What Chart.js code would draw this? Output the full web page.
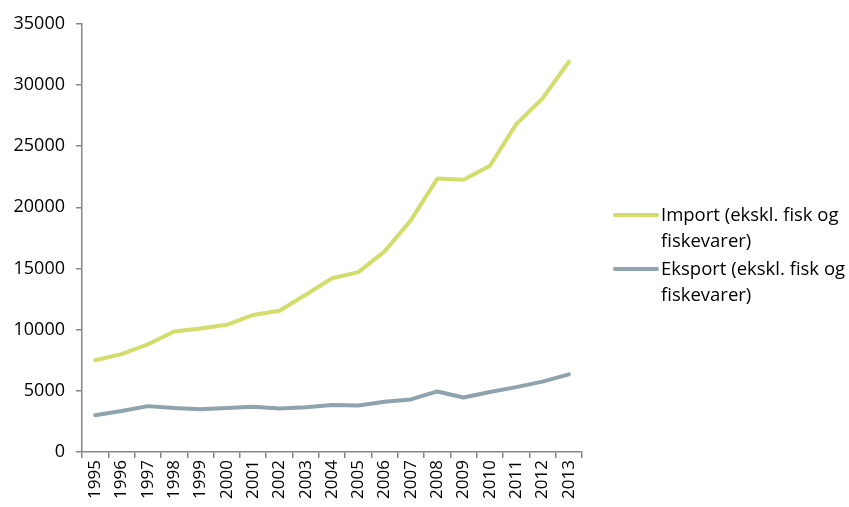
<!DOCTYPE html>
<html>
<head>
<meta charset="utf-8">
<script src="https://cdn.jsdelivr.net/npm/chart.js@4.4.0/dist/chart.umd.min.js"></script>
<style>
  html, body { margin:0; padding:0; background:#fff; }
  #wrap { position:relative; width:849px; height:507px; }
  #box { position:absolute; left:0; top:2px; width:849px; height:505px; }
  #legend { position:absolute; left:613px; top:201px; font-family:"Open Sans", sans-serif; font-size:18.5px; color:#000; line-height:26px; }
  .item { position:relative; padding-left:48px; width:190px; margin-bottom:2px; }
  .swatch { position:absolute; left:0; top:12px; width:46px; height:4px; border-radius:2px; }
</style>
</head>
<body>
<div id="wrap">
  <div id="box"><canvas id="chart"></canvas></div>
  <div id="legend"></div>
</div>
<script>
// Data (lest av fra figuren)
const years = ["1995","1996","1997","1998","1999","2000","2001","2002","2003","2004",
               "2005","2006","2007","2008","2009","2010","2011","2012","2013"];
const importVals = [7500, 8000, 8800, 9850, 10100, 10400, 11200, 11550, 12850, 14200,
                    14700, 16400, 18950, 22350, 22250, 23400, 26800, 28900, 31900];
const eksportVals = [3000, 3350, 3750, 3600, 3500, 3600, 3700, 3550, 3650, 3850,
                     3800, 4100, 4300, 4950, 4450, 4900, 5300, 5750, 6350];
const seriesNames = ["Import (ekskl. fisk og fiskevarer)", "Eksport (ekskl. fisk og fiskevarer)"];
const seriesColors = ["#d2dd6c", "#8ea3ad"];

Chart.defaults.font.family = "'Open Sans', sans-serif";
Chart.defaults.font.size = 17;
Chart.defaults.color = "#000";

const axisColor = "#868686";

new Chart(document.getElementById("chart").getContext("2d"), {
  type: "line",
  data: {
    labels: years,
    datasets: [
      { label: seriesNames[0], data: importVals, borderColor: seriesColors[0], backgroundColor: seriesColors[0],
        borderWidth: 4, pointRadius: 0, tension: 0, borderCapStyle: "round", borderJoinStyle: "round" },
      { label: seriesNames[1], data: eksportVals, borderColor: seriesColors[1], backgroundColor: seriesColors[1],
        borderWidth: 4, pointRadius: 0, tension: 0, borderCapStyle: "round", borderJoinStyle: "round" }
    ]
  },
  options: {
    responsive: true,
    maintainAspectRatio: false,
    animation: false,
    layout: { padding: { top: 9, right: 267, left: 0, bottom: 0 } },
    plugins: { legend: { display: false }, tooltip: { enabled: false } },
    scales: {
      x: {
        offset: true,
        grid: { display: true, drawOnChartArea: false, offset: true, color: axisColor, tickLength: 6, lineWidth: 1.5 },
        border: { color: axisColor, width: 1.5 },
        ticks: { minRotation: 90, maxRotation: 90, autoSkip: false, padding: 2 },
        afterFit: s => { s.height = 55; }
      },
      y: {
        min: 0, max: 35000,
        grid: { display: true, drawOnChartArea: false, color: axisColor, tickLength: 6, lineWidth: 1.5 },
        border: { color: axisColor, width: 1.5 },
        ticks: { stepSize: 5000, padding: 11, font: { size: 18 }, callback: v => String(v) },
        afterFit: s => { s.width = 82; }
      }
    }
  }
});

// HTML-legend (tekst brytes over to linjer som i originalen)
const legend = document.getElementById("legend");
seriesNames.forEach((name, i) => {
  const div = document.createElement("div");
  div.className = "item";
  div.innerHTML = '<span class="swatch" style="background:' + seriesColors[i] + '"></span>' + name;
  legend.appendChild(div);
});
</script>
</body>
</html>
